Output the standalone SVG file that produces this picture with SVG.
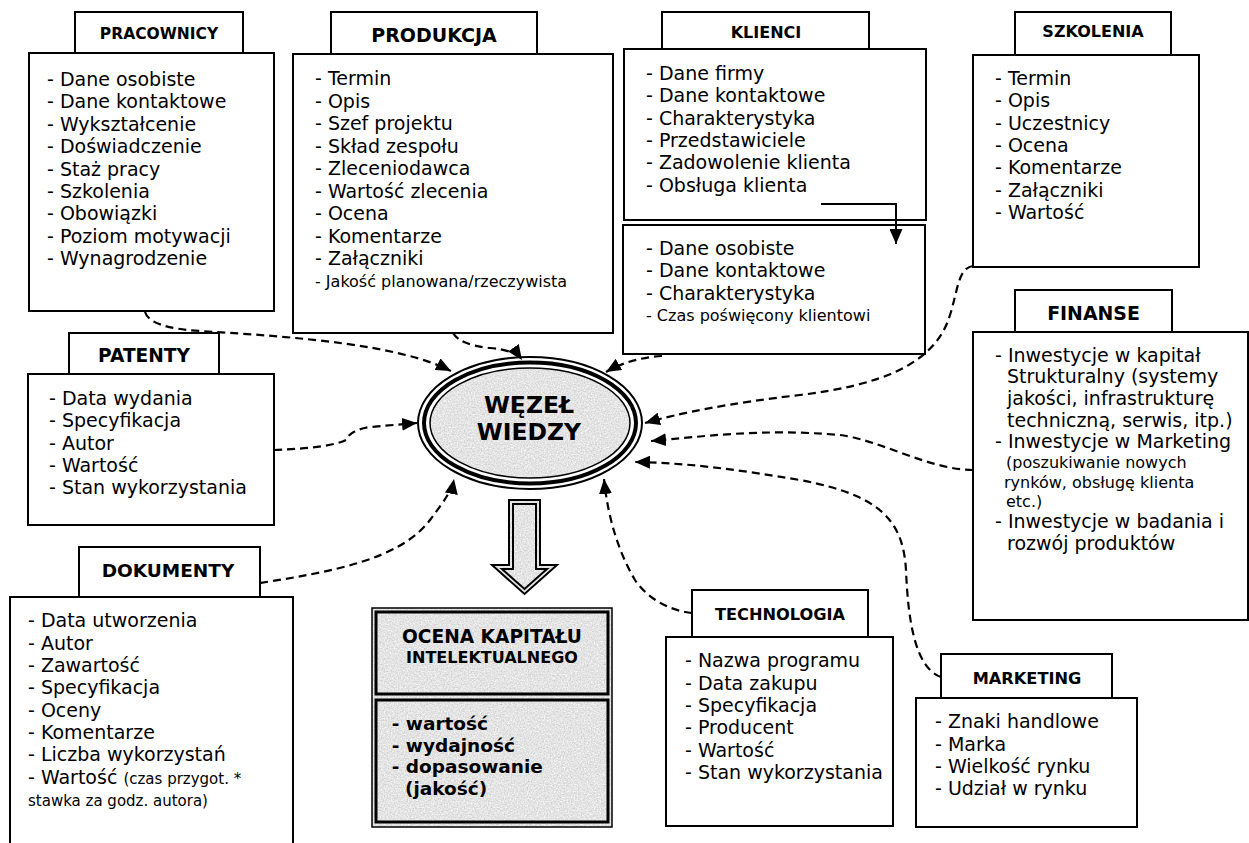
<svg xmlns="http://www.w3.org/2000/svg" width="1249" height="843" viewBox="0 0 1249 843">
<style>
.box{fill:#fff;stroke:#000;stroke-width:2}
.t{font-family:"DejaVu Sans",Verdana,sans-serif;font-size:19px;fill:#000}
.s{font-size:16px}
.xs{font-size:15px}
.fs{font-size:16px}
.h{font-family:"DejaVu Sans",Verdana,sans-serif;font-weight:bold;text-anchor:middle;fill:#000}
.b{font-weight:bold;font-size:18.5px}
.dash{fill:none;stroke:#000;stroke-width:2.2;stroke-dasharray:8 5;marker-end:url(#ah)}
.solid{fill:none;stroke:#000;stroke-width:2;marker-end:url(#ah)}
.tex{fill:#e2e2e2;filter:url(#noise)}
</style>
<defs>
<marker id="ah" markerUnits="userSpaceOnUse" markerWidth="16" markerHeight="13" refX="15" refY="6.5" orient="auto">
<path d="M0,0 L15,6.5 L0,13 z" fill="#000" stroke="none"/>
</marker>
<filter id="noise" x="0" y="0" width="1" height="1" color-interpolation-filters="sRGB">
<feTurbulence type="fractalNoise" baseFrequency="0.7" numOctaves="2" seed="4" result="n"/>
<feColorMatrix in="n" type="saturate" values="0" result="g"/>
<feComponentTransfer in="g" result="c">
<feFuncR type="linear" slope="0.35" intercept="0.72"/>
<feFuncG type="linear" slope="0.35" intercept="0.72"/>
<feFuncB type="linear" slope="0.35" intercept="0.72"/>
<feFuncA type="linear" slope="0" intercept="1"/>
</feComponentTransfer>
<feComposite in="c" in2="SourceGraphic" operator="in"/>
</filter>
</defs>
<rect width="1249" height="843" fill="#fff"/>

<g id="pracownicy">
<rect class="box" x="75" y="12" width="168" height="41"/>
<rect class="box" x="29" y="53" width="245" height="258"/>
<text class="h" x="159" y="39" font-size="15.5">PRACOWNICY</text>
<text class="t" x="47" y="86">- Dane osobiste</text>
<text class="t" x="47" y="108.4">- Dane kontaktowe</text>
<text class="t" x="47" y="130.8">- Wykształcenie</text>
<text class="t" x="47" y="153.2">- Doświadczenie</text>
<text class="t" x="47" y="175.6">- Staż pracy</text>
<text class="t" x="47" y="198">- Szkolenia</text>
<text class="t" x="47" y="220.4">- Obowiązki</text>
<text class="t" x="47" y="242.8">- Poziom motywacji</text>
<text class="t" x="47" y="265.2">- Wynagrodzenie</text>
</g>

<g id="produkcja">
<rect class="box" x="331" y="12" width="206" height="42"/>
<rect class="box" x="293" y="54" width="320" height="279"/>
<text class="h" x="434" y="41.7" font-size="19">PRODUKCJA</text>
<text class="t" x="315" y="85">- Termin</text>
<text class="t" x="315" y="107.5">- Opis</text>
<text class="t" x="315" y="130">- Szef projektu</text>
<text class="t" x="315" y="152.5">- Skład zespołu</text>
<text class="t" x="315" y="175">- Zleceniodawca</text>
<text class="t" x="315" y="197.5">- Wartość zlecenia</text>
<text class="t" x="315" y="220">- Ocena</text>
<text class="t" x="315" y="242.5">- Komentarze</text>
<text class="t" x="315" y="265">- Załączniki</text>
<text class="t s" x="315" y="287">- Jakość planowana/rzeczywista</text>
</g>

<g id="klienci">
<rect class="box" x="662" y="12" width="207" height="37"/>
<rect class="box" x="624" y="49" width="302" height="171"/>
<text class="h" x="766" y="38.3" font-size="16">KLIENCI</text>
<text class="t" x="646" y="80">- Dane firmy</text>
<text class="t" x="646" y="102.3">- Dane kontaktowe</text>
<text class="t" x="646" y="124.6">- Charakterystyka</text>
<text class="t" x="646" y="146.9">- Przedstawiciele</text>
<text class="t" x="646" y="169.2">- Zadowolenie klienta</text>
<text class="t" x="646" y="191.5">- Obsługa klienta</text>
</g>

<g id="klienci-osoby">
<rect class="box" x="623" y="225" width="302" height="129"/>
<text class="t" x="646" y="255">- Dane osobiste</text>
<text class="t" x="646" y="277.3">- Dane kontaktowe</text>
<text class="t" x="646" y="299.7">- Charakterystyka</text>
<text class="t s" x="646" y="321">- Czas poświęcony klientowi</text>
</g>

<g id="szkolenia">
<rect class="box" x="1015" y="12" width="156" height="43"/>
<rect class="box" x="973" y="55" width="226" height="212"/>
<text class="h" x="1093" y="37.3" font-size="16">SZKOLENIA</text>
<text class="t" x="995" y="85">- Termin</text>
<text class="t" x="995" y="107.3">- Opis</text>
<text class="t" x="995" y="129.7">- Uczestnicy</text>
<text class="t" x="995" y="152">- Ocena</text>
<text class="t" x="995" y="174.3">- Komentarze</text>
<text class="t" x="995" y="196.7">- Załączniki</text>
<text class="t" x="995" y="219">- Wartość</text>
</g>

<g id="patenty">
<rect class="box" x="69" y="333" width="150" height="41"/>
<rect class="box" x="28" y="374" width="246" height="151"/>
<text class="h" x="144" y="362.3" font-size="18.6">PATENTY</text>
<text class="t" x="49" y="405">- Data wydania</text>
<text class="t" x="49" y="427.3">- Specyfikacja</text>
<text class="t" x="49" y="449.7">- Autor</text>
<text class="t" x="49" y="472">- Wartość</text>
<text class="t" x="49" y="494.3">- Stan wykorzystania</text>
</g>

<g id="wezel">
<ellipse cx="530" cy="423" rx="112" ry="66" fill="#fff" stroke="#000" stroke-width="2"/>
<ellipse cx="530" cy="423" rx="106" ry="60.5" fill="#fff" stroke="#000" stroke-width="4"/>
<ellipse cx="530" cy="423" rx="100" ry="55" class="tex"/>
<ellipse cx="530" cy="423" rx="100" ry="55" fill="none" stroke="#000" stroke-width="1.5"/>
<text class="h" x="529" y="413" font-size="23.5">WĘZEŁ</text>
<text class="h" x="529" y="440" font-size="23.5">WIEDZY</text>
</g>

<g id="strzalka">
<path d="M509,500 H540 V565 H557 L524.5,594 L492,565 H509 Z" class="tex"/>
<path d="M509,500 H540 V565 H557 L524.5,594 L492,565 H509 Z" fill="none" stroke="#000" stroke-width="2"/>
<path d="M513,504 H536 V569 H547 L524.5,589 L502,569 H513 Z" fill="none" stroke="#000" stroke-width="2"/>
</g>

<g id="ocena">
<rect x="372" y="608" width="240" height="219" class="tex"/>
<rect x="372" y="608" width="240" height="219" fill="none" stroke="#000" stroke-width="1.5"/>
<rect x="376" y="612" width="232" height="82" fill="none" stroke="#000" stroke-width="3"/>
<rect x="376" y="700" width="232" height="122" fill="none" stroke="#000" stroke-width="3"/>
<text class="h" x="492" y="643.3" font-size="18.6">OCENA KAPITAŁU</text>
<text class="h" x="492" y="663.3" font-size="16">INTELEKTUALNEGO</text>
<text class="t b" x="391.7" y="730">- wartość</text>
<text class="t b" x="391.7" y="751.7">- wydajność</text>
<text class="t b" x="391.7" y="773.3">- dopasowanie</text>
<text class="t b" x="405" y="795">(jakość)</text>
</g>

<g id="dokumenty">
<rect class="box" x="79" y="547" width="181" height="50"/>
<rect class="box" x="10" y="597" width="283" height="270"/>
<text class="h" x="168" y="576.7" font-size="18.5">DOKUMENTY</text>
<text class="t" x="28" y="627.3">- Data utworzenia</text>
<text class="t" x="28" y="649.7">- Autor</text>
<text class="t" x="28" y="672">- Zawartość</text>
<text class="t" x="28" y="694.3">- Specyfikacja</text>
<text class="t" x="28" y="716.7">- Oceny</text>
<text class="t" x="28" y="739">- Komentarze</text>
<text class="t" x="28" y="761.3">- Liczba wykorzystań</text>
<text class="t" x="28" y="783.7">- Wartość <tspan class="xs">(czas przygot. *</tspan></text>
<text class="t xs" x="28" y="806">stawka za godz. autora)</text>
</g>

<g id="finanse">
<rect class="box" x="1015" y="290" width="157" height="42"/>
<rect class="box" x="973" y="332" width="275" height="288"/>
<text class="h" x="1093.5" y="320" font-size="18.9">FINANSE</text>
<text class="t" x="995" y="361.7">- Inwestycje w kapitał</text>
<text class="t" x="1007" y="383.3">Strukturalny (systemy</text>
<text class="t" x="1007" y="405">jakości, infrastrukturę</text>
<text class="t" x="1007" y="426.7">techniczną, serwis, itp.)</text>
<text class="t" x="995" y="448.3">- Inwestycje w Marketing</text>
<text class="t fs" x="1006" y="468">(poszukiwanie nowych</text>
<text class="t fs" x="1004" y="488">rynków, obsługę klienta</text>
<text class="t fs" x="1006" y="507">etc.)</text>
<text class="t" x="995" y="528.3">- Inwestycje w badania i</text>
<text class="t" x="1007" y="550">rozwój produktów</text>
</g>

<g id="technologia">
<rect class="box" x="692" y="590" width="176" height="47"/>
<rect class="box" x="666" y="637" width="227" height="189"/>
<text class="h" x="780" y="620" font-size="16.2">TECHNOLOGIA</text>
<text class="t" x="685" y="667.3">- Nazwa programu</text>
<text class="t" x="685" y="689.7">- Data zakupu</text>
<text class="t" x="685" y="712">- Specyfikacja</text>
<text class="t" x="685" y="734.3">- Producent</text>
<text class="t" x="685" y="756.7">- Wartość</text>
<text class="t" x="685" y="779">- Stan wykorzystania</text>
</g>

<g id="marketing">
<rect class="box" x="941" y="654" width="171" height="44"/>
<rect class="box" x="916" y="698" width="221" height="129"/>
<text class="h" x="1027" y="684" font-size="16.2">MARKETING</text>
<text class="t" x="935" y="728.3">- Znaki handlowe</text>
<text class="t" x="935" y="750.7">- Marka</text>
<text class="t" x="935" y="773">- Wielkość rynku</text>
<text class="t" x="935" y="795.3">- Udział w rynku</text>
</g>

<g id="connectors">
<path class="dash" d="M145,312 Q150,328 200,331 C300,337 400,345 451,371"/>
<path class="dash" d="M453,333 Q460,345 490,348 Q515,350 522,360"/>
<path class="dash" d="M662,356 Q630,358 606,372"/>
<path class="dash" d="M274,450 Q330,448 346,440 Q350,430 370,427 L417,423"/>
<path class="dash" d="M260,583 C330,572 400,560 430,520 C445,500 452,490 454,479"/>
<path class="dash" d="M692,613 C665,610 645,595 635,580 C620,555 608,520 604,479"/>
<path class="dash" d="M973,266 C958,268 958,290 950,315 C935,365 880,385 800,395 C730,403 680,413 645,423"/>
<path class="dash" d="M973,470 C930,470 880,440 840,435 C760,428 700,437 651,441"/>
<path class="dash" d="M941,677 C915,668 908,620 906,570 C903,520 880,495 800,480 C740,470 690,463 635,462"/>
<path class="solid" d="M821,204 H896 V244"/>
</g>
</svg>
